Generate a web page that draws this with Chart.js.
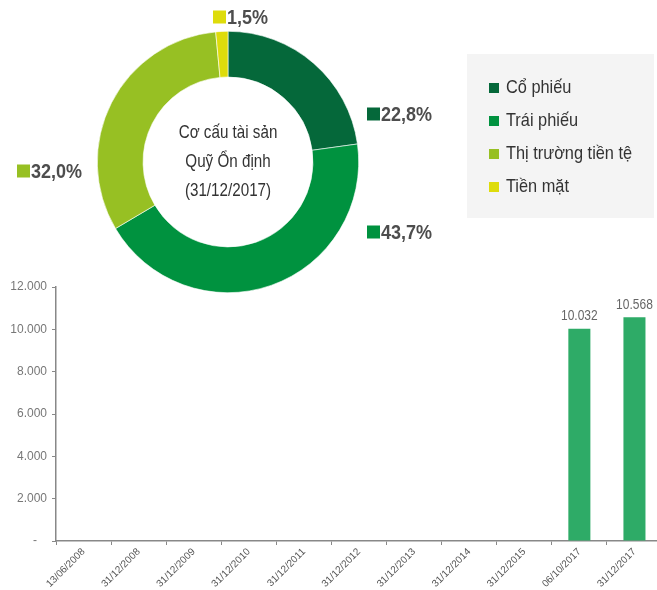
<!DOCTYPE html>
<html>
<head>
<meta charset="utf-8">
<script src="https://cdn.jsdelivr.net/npm/chart.js@4/dist/chart.umd.min.js"></script>
<style>
  html, body { margin: 0; padding: 0; background: #fff; overflow: hidden; }
  body { width: 657px; height: 590px; position: relative; }
  #chartDonut { position: absolute; left: 0; top: 0; }
  #chartNav { position: absolute; left: 0; top: 270px; }
</style>
</head>
<body>
<canvas id="chartDonut" width="657" height="300"></canvas>
<canvas id="chartNav" width="662" height="320"></canvas>
<script>
// Doughnut: asset structure
const assetLabels = ['Cổ phiếu', 'Trái phiếu', 'Thị trường tiền tệ', 'Tiền mặt'];
const assetValues = [22.8, 43.7, 32.0, 1.5];
const assetColors = ['#05683a', '#00923f', '#97c023', '#dedc0b'];
const centerLines = ['Cơ cấu tài sản', 'Quỹ Ổn định', '(31/12/2017)'];

// Bar chart: NAV by date
const navDates = ['13/06/2008', '31/12/2008', '31/12/2009', '31/12/2010', '31/12/2011',
  '31/12/2012', '31/12/2013', '31/12/2014', '31/12/2015', '06/10/2017', '31/12/2017'];
const navValues = [null, null, null, null, null, null, null, null, null, 10032, 10568];
const navTicks = [0, 2000, 4000, 6000, 8000, 10000, 12000];

const FONT = "'Liberation Sans', Arial, sans-serif";

function fmtThousands(v) {
  return String(v).replace(/\B(?=(\d{3})+(?!\d))/g, '.');
}

// texto estrecho: la fuente original es condensada, la aplastamos en x
function fillNarrow(ctx, text, x, y, sx) {
  ctx.save();
  ctx.translate(x, y);
  ctx.scale(sx, 1);
  ctx.fillText(text, 0, 0);
  ctx.restore();
}

// labels around the ring, placed relative to the centre (dx, dy in px)
const pctLabelOffsets = [[139, -48], [139, 70], [-211, 9], [-15, -145]];

const donutDecor = {
  id: 'donutDecor',
  afterDraw(chart) {
    const ctx = chart.ctx;
    const arcs = chart.getDatasetMeta(0).data;
    const cx = arcs[0].x, cy = arcs[0].y;
    ctx.save();

    // texto central
    ctx.fillStyle = '#333';
    ctx.font = '19px ' + FONT;
    ctx.textAlign = 'center';
    ctx.textBaseline = 'middle';
    centerLines.forEach((t, i) => fillNarrow(ctx, t, cx, cy - 29 + i * 29, 0.8));

    // porcentajes
    ctx.font = 'bold 20px ' + FONT;
    ctx.textAlign = 'left';
    assetValues.forEach((v, i) => {
      const x = cx + pctLabelOffsets[i][0];
      const y = cy + pctLabelOffsets[i][1];
      ctx.fillStyle = assetColors[i];
      ctx.fillRect(x, y - 6.5, 13, 13);
      ctx.fillStyle = '#4d4d4d';
      fillNarrow(ctx, v.toFixed(1).replace('.', ',') + '%', x + 14, y + 1, 0.9);
    });

    // leyenda
    ctx.fillStyle = '#f4f4f4';
    ctx.fillRect(467, 54, 187, 164);
    ctx.font = '19px ' + FONT;
    assetLabels.forEach((t, i) => {
      const y = 88 + i * 33;
      ctx.fillStyle = assetColors[i];
      ctx.fillRect(489, y - 5, 10, 10);
      ctx.fillStyle = '#333';
      fillNarrow(ctx, t, 506, y, 0.86);
    });
    ctx.restore();
  }
};

const barValueLabels = {
  id: 'barValueLabels',
  afterDatasetsDraw(chart) {
    const ctx = chart.ctx;
    const meta = chart.getDatasetMeta(0);
    ctx.save();
    ctx.fillStyle = '#666';
    ctx.font = '15px ' + FONT;
    ctx.textAlign = 'center';
    ctx.textBaseline = 'bottom';
    meta.data.forEach((bar, i) => {
      if (navValues[i] == null) return;
      fillNarrow(ctx, fmtThousands(navValues[i]), bar.x, bar.y - 5, 0.8);
    });
    ctx.restore();
  }
};

function drawDonut() {
  new Chart(document.getElementById('chartDonut'), {
    type: 'doughnut',
    data: {
      labels: assetLabels,
      datasets: [{
        data: assetValues,
        backgroundColor: assetColors,
        borderColor: '#ffffff',
        borderWidth: 0.6,
        hoverOffset: 0
      }]
    },
    options: {
      responsive: false,
      animation: false,
      cutout: '65%',
      rotation: 0,
      layout: { padding: { left: 97, right: 298, top: 31, bottom: 7 } },
      plugins: { legend: { display: false }, tooltip: { enabled: false } }
    },
    plugins: [donutDecor]
  });
}

function drawNav() {
  new Chart(document.getElementById('chartNav'), {
    type: 'bar',
    data: {
      labels: navDates,
      datasets: [{
        data: navValues,
        backgroundColor: '#2eab67',
        borderWidth: 0,
        categoryPercentage: 1,
        barPercentage: 0.4
      }]
    },
    options: {
      responsive: false,
      animation: false,
      layout: { padding: { left: 0, right: 0, top: 17, bottom: 0 } },
      scales: {
        x: {
          grid: { drawOnChartArea: false, drawTicks: true, tickLength: 4, tickColor: '#888', offset: true },
          border: { color: '#888', width: 1.5 },
          ticks: {
            autoSkip: false, maxRotation: 45, minRotation: 45,
            color: '#555', font: { family: FONT, size: 10 }, padding: 1
          },
          afterFit(axis) { axis.height = 49; }
        },
        y: {
          min: 0, max: 12000,
          afterBuildTicks(axis) { axis.ticks = navTicks.map(v => ({ value: v })); },
          grid: { drawOnChartArea: false, drawTicks: true, tickLength: 4, tickColor: '#888' },
          border: { color: '#888', width: 1.5 },
          ticks: {
            color: '#777', font: { family: FONT, size: 12 }, padding: 5,
            callback: v => v === 0 ? '-\u2007 ' : fmtThousands(v)
          },
          afterFit(axis) { axis.width = 56; }
        }
      },
      plugins: { legend: { display: false }, tooltip: { enabled: false } }
    },
    plugins: [barValueLabels]
  });
}

document.addEventListener('DOMContentLoaded', function () {
  drawDonut();
  drawNav();
});
</script>
</body>
</html>
